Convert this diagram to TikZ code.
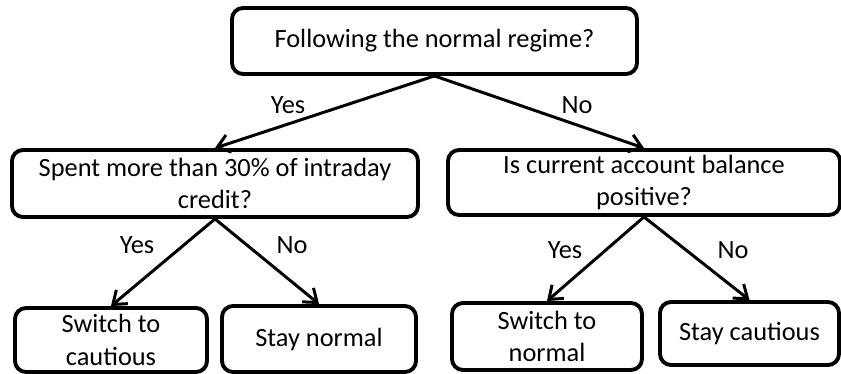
\documentclass[tikz,border=0pt]{standalone}
\usepackage{fontspec}
\setmainfont{Carlito}
\usetikzlibrary{arrows.meta}
\begin{document}
\begin{tikzpicture}[
  box/.style={draw,line width=2.2pt,rounded corners=0.22cm,inner sep=0pt,align=center,
    font=\fontsize{15}{18.5}\selectfont},
  lbl/.style={font=\fontsize{15}{18.5}\selectfont},
  arr/.style={line width=1.7pt,-{Straight Barb[length=2.4mm,width=3.6mm,line width=1.7pt]}}]
\useasboundingbox (0,0) rectangle (16.82,7.48);
% questions
\node[box,minimum width=8.10cm,minimum height=1.32cm] (regime) at (8.69,6.66) {Following the normal regime?};
\node[box,minimum width=8.12cm,minimum height=1.34cm] (credit) at (4.30,3.81) {Spent more than 30\% of intraday\\credit?};
\node[box,minimum width=7.84cm,minimum height=1.30cm] (balance) at (12.88,3.83) {Is current account balance\\positive?};
% outcomes
\node[box,minimum width=3.84cm,minimum height=1.28cm] (tocautious) at (2.22,0.68) {Switch to\\cautious};
\node[box,minimum width=3.88cm,minimum height=1.32cm] (staynormal) at (6.38,0.70) {Stay normal};
\node[box,minimum width=3.80cm,minimum height=1.34cm] (tonormal) at (10.94,0.75) {Switch to\\normal};
\node[box,minimum width=3.58cm,minimum height=1.26cm] (staycautious) at (14.99,0.81) {Stay cautious};
% arrows
\draw[arr] (regime.south) -- (credit.north);
\draw[arr] (regime.south) -- (balance.north);
\draw[arr] (credit.south) -- (tocautious.north);
\draw[arr] (credit.south) -- (staynormal.north);
\draw[arr] (balance.south) -- (tonormal.north);
\draw[arr] (balance.south) -- (staycautious.north);
% labels
\node[lbl] (yesA) at (5.76,5.38) {Yes};
\node[lbl] (noA) at (11.54,5.38) {No};
\node[lbl] (yesB) at (2.74,2.58) {Yes};
\node[lbl] (noB) at (5.84,2.58) {No};
\node[lbl] (yesC) at (11.30,2.48) {Yes};
\node[lbl] (noC) at (14.66,2.48) {No};
\end{tikzpicture}
\end{document}
